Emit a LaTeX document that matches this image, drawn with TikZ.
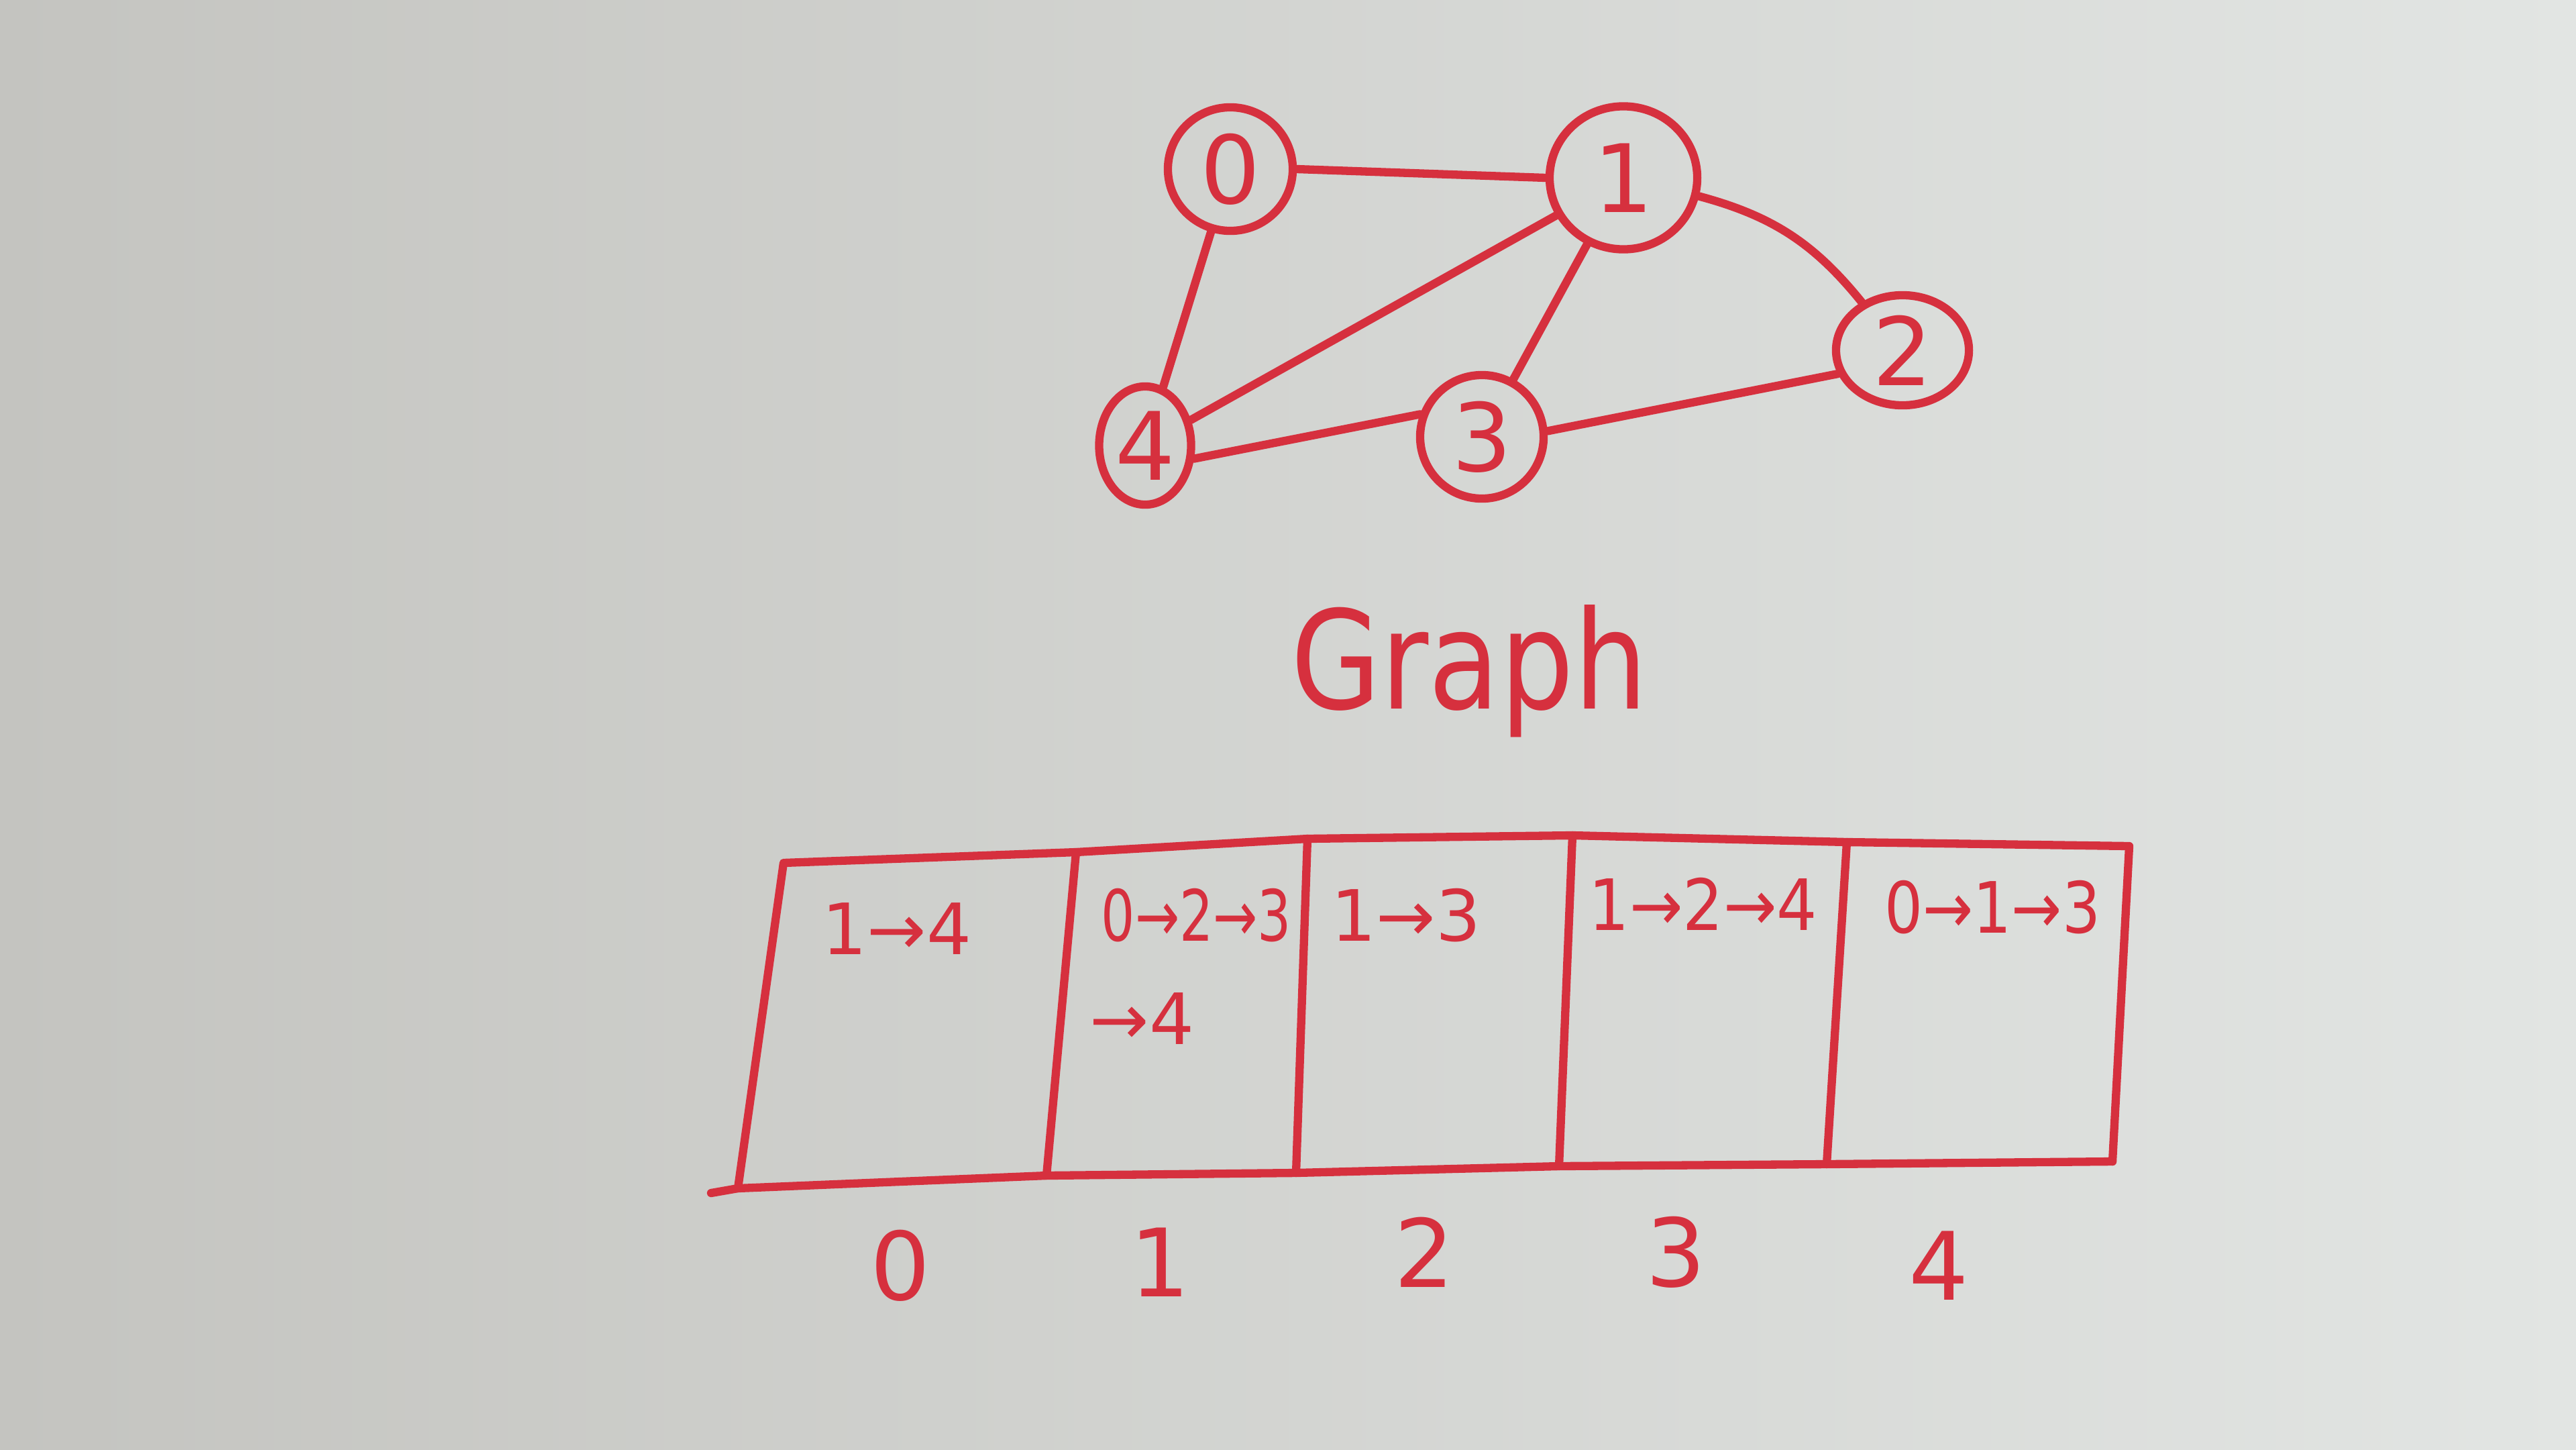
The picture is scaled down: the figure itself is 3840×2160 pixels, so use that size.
\documentclass[tikz,border=0pt]{standalone}
\usepackage{fontspec}
\setmainfont{DejaVu Sans}
\usetikzlibrary{shapes.geometric}
\definecolor{marker}{RGB}{214,48,62}
\definecolor{boardL}{RGB}{196,196,192}
\definecolor{boardR}{RGB}{226,229,227}
\begin{document}
\begin{tikzpicture}[x=0.01cm,y=-0.01cm,
  vert/.style={draw=marker, line width=3.5pt, ellipse, inner sep=0pt, text=marker, font=\fontsize{40}{40}\selectfont},
  edge/.style={draw=marker, line width=3.5pt, line cap=round},
  cell/.style={text=marker, font=\fontsize{30}{30}\selectfont, inner sep=0pt, anchor=west},
  idx/.style={text=marker, font=\fontsize{40}{40}\selectfont, inner sep=0pt},
  frame/.style={draw=marker, line width=3.5pt, line cap=round, line join=round}]
\fill[left color=boardL, right color=boardR] (0,0) rectangle (3840,2160);
\useasboundingbox (0,0) rectangle (3840,2160);
% graph
\node[vert, minimum width=1.86cm, minimum height=1.84cm] (v0) at (1834,252) {0};
\node[vert, minimum width=2.2cm, minimum height=2.13cm] (v1) at (2420,265) {1};
\node[vert, minimum width=1.98cm, minimum height=1.64cm] (v2) at (2836,522) {2};
\node[vert, minimum width=1.84cm, minimum height=1.84cm] (v3) at (2209,651) {3};
\node[vert, minimum width=1.37cm, minimum height=1.76cm] (v4) at (1707,664) {4};
\draw[edge] (v0.east) -- (v1.west);
\draw[edge] (v0) -- (v4);
\draw[edge] (v1) -- (v4);
\draw[edge] (v1) -- (v3);
\draw[edge] (v1) to[bend left=18] (v2);
\draw[edge] (v4.-15) -- (v3.160);
\draw[edge] (v3.5) -- (v2.200);
\node[text=marker, font=\fontsize{58}{58}\selectfont] (title) at (2190,1000) {\scalebox{0.85}[1]{Graph}};
% table
\coordinate (t0) at (1168,1286);
\coordinate (t1) at (1604,1270);
\coordinate (t2) at (1949,1250);
\coordinate (t3) at (2344,1245);
\coordinate (t4) at (2753,1255);
\coordinate (t5) at (3174,1261);
\coordinate (b0) at (1100,1771);
\coordinate (b1) at (1560,1752);
\coordinate (b2) at (1932,1748);
\coordinate (b3) at (2324,1738);
\coordinate (b4) at (2723,1735);
\coordinate (b5) at (3149,1731);
\coordinate (bl) at (1060,1778);
\draw[frame] (b0) -- (t0) -- (t1) -- (t2) -- (t3) -- (t4) -- (t5) -- (b5);
\draw[frame] (bl) -- (b0) -- (b1) -- (b2) -- (b3) -- (b4) -- (b5);
\draw[frame] (t1) -- (b1);
\draw[frame] (t2) -- (b2);
\draw[frame] (t3) -- (b3);
\draw[frame] (t4) -- (b4);
% cell contents
\node[cell] (c0) at (1225,1384) {1→4};
\node[cell] (c1) at (1641,1364) {\scalebox{0.75}[1]{0→2→3}};
\node[cell] (c1b) at (1624,1518) {→4};
\node[cell] (c2) at (1984,1364) {1→3};
\node[cell] (c3) at (2368,1347) {\scalebox{0.9}[1]{1→2→4}};
\node[cell] (c4) at (2809,1352) {\scalebox{0.85}[1]{0→1→3}};
% indices
\node[idx] (i0) at (1342,1886) {0};
\node[idx] (i1) at (1729,1881) {1};
\node[idx] (i2) at (2123,1866) {2};
\node[idx] (i3) at (2498,1866) {3};
\node[idx] (i4) at (2890,1886) {4};
\end{tikzpicture}
\end{document}
